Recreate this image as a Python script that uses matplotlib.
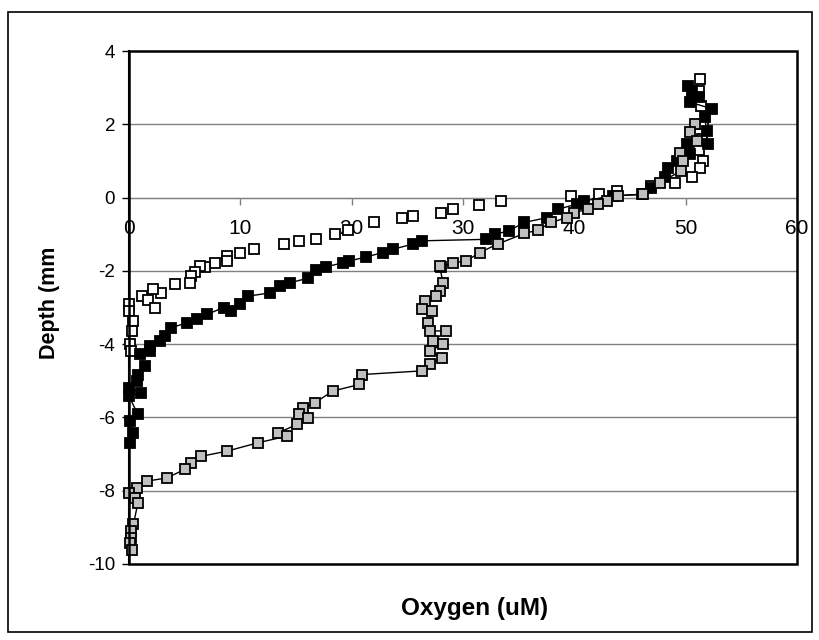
import matplotlib.pyplot as plt
from matplotlib.patches import Rectangle

plt.rcParams['font.family'] = ['Liberation Sans', 'DejaVu Sans']
plt.rcParams['axes.unicode_minus'] = False

# open squares (no line)
open_o2 = [51.3, 51.2, 51.4, 51.6, 51.5, 51.2, 51.6, 51.3, 50.6, 49.0, 46.9, 43.8, 42.2, 39.7,
           33.4, 31.4, 29.1, 28.0, 25.5, 24.5, 22.0, 19.7, 18.5, 16.8, 15.3, 13.9, 11.2, 10.0,
           8.8, 8.8, 7.7, 6.8, 6.4, 5.9, 5.6, 5.5, 4.1, 2.9, 2.2, 1.2, 1.7, 2.3, 0.0, 0.0,
           0.4, 0.3, 0.1, 0.2]
open_depth = [3.23, 2.9, 2.5, 2.0, 1.6, 1.3, 1.0, 0.82, 0.55, 0.41, 0.32, 0.18, 0.09, 0.03,
              -0.09, -0.19, -0.30, -0.41, -0.51, -0.57, -0.68, -0.88, -1.0, -1.12, -1.18, -1.27,
              -1.41, -1.50, -1.59, -1.73, -1.78, -1.89, -1.87, -2.02, -2.14, -2.32, -2.37, -2.6,
              -2.5, -2.69, -2.80, -3.02, -2.91, -3.1, -3.37, -3.64, -4.0, -4.19]

# black squares with line
black_o2 = [50.2, 50.6, 51.2, 50.4, 52.4, 51.7, 51.9, 52.0, 50.1, 50.4, 49.2, 48.4, 48.1, 46.9,
            46.1, 43.5, 40.9, 40.2, 38.5, 37.5, 35.5, 34.1, 32.9, 32.1, 26.3, 25.5, 23.7, 22.8,
            21.3, 19.8, 19.2, 17.7, 16.8, 16.1, 14.5, 13.6, 12.7, 10.7, 10.0, 9.2, 8.5, 7.0,
            6.1, 5.2, 3.8, 3.2, 2.8, 1.9, 1.9, 1.0, 1.4, 0.8, 0.7, 0.0, 1.1, 0.0, 0.8, 0.1,
            0.4, 0.1]
black_depth = [3.05, 2.92, 2.75, 2.6, 2.42, 2.19, 1.82, 1.47, 1.46, 1.19, 1.0, 0.82, 0.55, 0.27,
               0.09, 0.05, -0.09, -0.18, -0.32, -0.55, -0.68, -0.91, -1.0, -1.14, -1.18, -1.27,
               -1.41, -1.50, -1.62, -1.73, -1.78, -1.89, -1.97, -2.2, -2.32, -2.41, -2.6, -2.69,
               -2.91, -3.1, -3.0, -3.19, -3.32, -3.42, -3.55, -3.78, -3.92, -4.05, -4.19, -4.28,
               -4.6, -4.83, -5.01, -5.19, -5.33, -5.42, -5.92, -6.1, -6.42, -6.69]

# grey squares with line
grey_o2 = [50.8, 50.4, 51.0, 49.5, 49.8, 49.6, 47.7, 46.2, 43.9, 42.9, 42.1, 41.2, 40.0, 39.3,
           37.9, 36.7, 35.5, 33.1, 31.5, 30.3, 29.1, 28.0, 27.9, 28.2, 27.9, 27.6, 26.6, 26.3,
           27.2, 26.9, 27.0, 28.5, 27.3, 28.2, 27.0, 28.1, 27.0, 26.3, 20.9, 20.7, 18.3, 16.7,
           15.6, 15.3, 16.1, 15.1, 13.4, 14.2, 11.6, 8.8, 6.5, 5.6, 5.0, 3.4, 1.6, 0.7, 0.0,
           0.5, 0.8, 0.4, 0.2, 0.2, 0.1, 0.3]
grey_depth = [2.0, 1.78, 1.55, 1.23, 1.0, 0.73, 0.41, 0.09, 0.05, -0.09, -0.18, -0.32, -0.41,
              -0.55, -0.68, -0.89, -0.98, -1.27, -1.50, -1.73, -1.78, -1.89, -1.87, -2.32, -2.55,
              -2.69, -2.82, -3.05, -3.1, -3.42, -3.64, -3.64, -3.92, -4.0, -4.19, -4.37, -4.55,
              -4.73, -4.83, -5.10, -5.28, -5.60, -5.74, -5.92, -6.01, -6.19, -6.42, -6.51, -6.69,
              -6.92, -7.06, -7.24, -7.42, -7.65, -7.74, -7.92, -8.06, -8.2, -8.33, -8.92, -9.1,
              -9.29, -9.42, -9.62]

x_ticks = [0, 10, 20, 30, 40, 50, 60]
y_ticks = [-10, -8, -6, -4, -2, 0, 2, 4]

W, H = 819, 640
fig = plt.figure(figsize=(W / 100, H / 100), dpi=100)
fig.patches.append(Rectangle((8 / W, 1 - 632 / H), 804 / W, 620 / H, transform=fig.transFigure,
                             fill=False, edgecolor='black', linewidth=1.2))

ax = fig.add_axes([129 / W, 1 - 564 / H, 668 / W, 513 / H])
ax.set_xlim(0, 60)
ax.set_ylim(-10, 4)

for y in y_ticks[1:-1]:
    ax.axhline(y, color='#808080', linewidth=1, zorder=1)

mk = dict(marker='s', markersize=7.5, markeredgecolor='black', markeredgewidth=1.3, clip_on=False)
ax.plot(open_o2, open_depth, linestyle='none', markerfacecolor='white', zorder=3, **mk)
ax.plot(black_o2, black_depth, color='black', linewidth=1, markerfacecolor='black', zorder=4, **mk)
ax.plot(grey_o2, grey_depth, color='black', linewidth=1, markerfacecolor='#c0c0c0', zorder=5, **mk)

# x axis crosses at depth 0
ax.spines['bottom'].set_position(('data', 0))
ax.spines['bottom'].set_color('#808080')
ax.spines['top'].set_visible(False)
ax.spines['right'].set_visible(False)
ax.spines['left'].set_linewidth(1.5)
ax.add_patch(Rectangle((0, 0), 1, 1, transform=ax.transAxes, fill=False,
                       edgecolor='black', linewidth=1.8, zorder=6, clip_on=False))

ax.set_xticks(x_ticks)
ax.set_yticks(y_ticks)
ax.tick_params(axis='x', direction='out', length=5, width=1, color='#808080', pad=10.5, labelsize=15)
ax.tick_params(axis='y', direction='out', length=5, width=1, pad=5, labelsize=13.5)

fig.text(475 / W, 1 - 615 / H, 'Oxygen (uM)', ha='center', va='baseline',
         fontsize=17.5, fontweight='bold')
fig.text(49 / W, 1 - 303 / H, 'Depth (mm', ha='center', va='center', rotation=90,
         fontsize=15.5, fontweight='bold')

fig.savefig('out.png', dpi=100)
